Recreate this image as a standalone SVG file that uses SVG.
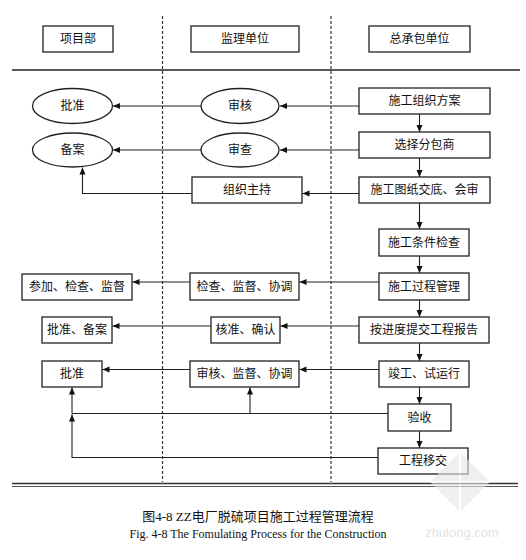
<svg xmlns="http://www.w3.org/2000/svg" width="526" height="560" viewBox="0 0 526 560">
<defs>
<style>
.box{fill:#fff;stroke:#222;stroke-width:1.3}
.t{font-family:"Liberation Serif","Noto Sans CJK SC",serif;font-size:12px;fill:#111;text-anchor:middle;dominant-baseline:central}
.ln{fill:none;stroke:#222;stroke-width:1.1}
.arr{fill:none;stroke:#222;stroke-width:1.1;marker-end:url(#ah)}
.dash{stroke:#333;stroke-width:1.2;stroke-dasharray:3 2}
</style>
<marker id="ah" markerUnits="userSpaceOnUse" markerWidth="8" markerHeight="8" viewBox="0 0 8 8" refX="7" refY="4" orient="auto">
<path d="M0,1 L7,4 L0,7 Z" fill="#111"/>
</marker>
</defs>
<rect width="526" height="560" fill="#fff"/>

<g id="lanes">
<line class="dash" x1="162.5" y1="16" x2="162.5" y2="482"/>
<line class="dash" x1="331" y1="16" x2="331" y2="482"/>
<line x1="12" y1="70" x2="520" y2="70" stroke="#222" stroke-width="1.4"/>
<line x1="12" y1="483.5" x2="518" y2="483.5" stroke="#333" stroke-width="1.5"/>
<line x1="12" y1="486.5" x2="518" y2="486.5" stroke="#555" stroke-width="1"/>
</g>

<g id="h1"><rect class="box" x="43" y="26" width="70" height="26"/><text class="t" x="78" y="39">项目部</text></g>
<g id="h2"><rect class="box" x="191" y="26" width="108" height="26"/><text class="t" x="245" y="39">监理单位</text></g>
<g id="h3"><rect class="box" x="369" y="26" width="101" height="26"/><text class="t" x="419.5" y="39">总承包单位</text></g>

<g id="n1"><rect class="box" x="359" y="88" width="131" height="26"/><text class="t" x="424.5" y="101">施工组织方案</text></g>
<g id="n2"><ellipse class="box" cx="240" cy="106" rx="39" ry="17.5"/><text class="t" x="240" y="106">审核</text></g>
<g id="n3"><ellipse class="box" cx="72.5" cy="106" rx="40" ry="17.5"/><text class="t" x="72.5" y="106">批准</text></g>

<g id="n4"><rect class="box" x="359" y="132" width="131" height="26"/><text class="t" x="424.5" y="145">选择分包商</text></g>
<g id="n5"><ellipse class="box" cx="240" cy="150" rx="39" ry="17"/><text class="t" x="240" y="150">审查</text></g>
<g id="n6"><ellipse class="box" cx="72.5" cy="150" rx="40" ry="17"/><text class="t" x="72.5" y="150">备案</text></g>

<g id="n7"><rect class="box" x="359" y="177" width="131" height="26"/><text class="t" x="424.5" y="190">施工图纸交底、会审</text></g>
<g id="n8"><rect class="box" x="192" y="177" width="110" height="26"/><text class="t" x="247" y="190">组织主持</text></g>

<g id="n9"><rect class="box" x="379" y="229" width="90" height="27"/><text class="t" x="424" y="242.5">施工条件检查</text></g>

<g id="n10"><rect class="box" x="379" y="273" width="90" height="27"/><text class="t" x="424" y="286.5">施工过程管理</text></g>
<g id="n11"><rect class="box" x="190" y="273" width="109" height="27"/><text class="t" x="244.5" y="286.5">检查、监督、协调</text></g>
<g id="n12"><rect class="box" x="22" y="274" width="110" height="26"/><text class="t" x="77" y="287">参加、检查、监督</text></g>

<g id="n13"><rect class="box" x="359" y="317" width="130" height="26"/><text class="t" x="424" y="330">按进度提交工程报告</text></g>
<g id="n14"><rect class="box" x="211" y="317" width="69" height="26"/><text class="t" x="245.5" y="330">核准、确认</text></g>
<g id="n15"><rect class="box" x="42" y="317" width="70" height="26"/><text class="t" x="77" y="330">批准、备案</text></g>

<g id="n16"><rect class="box" x="379" y="361" width="90" height="26"/><text class="t" x="424" y="374">竣工、试运行</text></g>
<g id="n17"><rect class="box" x="190" y="361" width="109" height="26"/><text class="t" x="244.5" y="374">审核、监督、协调</text></g>
<g id="n18"><rect class="box" x="42" y="361" width="60" height="26"/><text class="t" x="72" y="374">批准</text></g>

<g id="n19"><rect class="box" x="388" y="404" width="63" height="27"/><text class="t" x="419.5" y="417.5">验收</text></g>
<g id="n20"><rect class="box" x="378" y="448" width="90" height="26"/><text class="t" x="423" y="461">工程移交</text></g>

<g id="connectors">
<line class="arr" x1="359" y1="106" x2="280" y2="106"/>
<line class="arr" x1="201" y1="106" x2="113" y2="106"/>
<line class="arr" x1="419.5" y1="114" x2="419.5" y2="132"/>
<line class="arr" x1="359" y1="150" x2="280" y2="150"/>
<line class="arr" x1="201" y1="150" x2="113" y2="150"/>
<line class="arr" x1="419.5" y1="158" x2="419.5" y2="177"/>
<line class="arr" x1="359" y1="193.5" x2="302.5" y2="193.5"/>
<polyline class="arr" points="192,193.5 82.5,193.5 82.5,167.5"/>
<line class="arr" x1="419.5" y1="203" x2="419.5" y2="229"/>
<line class="arr" x1="419.5" y1="256" x2="419.5" y2="273"/>
<line class="arr" x1="379" y1="282" x2="299.5" y2="282"/>
<line class="arr" x1="190" y1="282" x2="132.5" y2="282"/>
<line class="arr" x1="419.5" y1="300" x2="419.5" y2="317"/>
<line class="arr" x1="359" y1="326" x2="280.5" y2="326"/>
<line class="arr" x1="211" y1="326" x2="112.5" y2="326"/>
<line class="arr" x1="419.5" y1="343" x2="419.5" y2="361"/>
<line class="arr" x1="379" y1="369.5" x2="299.5" y2="369.5"/>
<line class="arr" x1="190" y1="369.5" x2="102.5" y2="369.5"/>
<line class="arr" x1="419.5" y1="387" x2="419.5" y2="404"/>
<line class="ln" x1="388" y1="413.5" x2="72" y2="413.5"/>
<line class="arr" x1="250" y1="413.5" x2="250" y2="387.5"/>
<line class="arr" x1="72" y1="413.5" x2="72" y2="387.5"/>
<line class="arr" x1="419.5" y1="431" x2="419.5" y2="448"/>
<polyline class="arr" points="378,457.5 72,457.5 72,414.5"/>
</g>

<g id="watermark" opacity="0.6">
<polygon points="460,452 490,482 460,512 430,482" fill="#e6e6e6"/>
<line x1="460" y1="452" x2="460" y2="512" stroke="#fff" stroke-width="2"/>
<line x1="430" y1="482" x2="490" y2="482" stroke="#fff" stroke-width="2"/>
<text x="462" y="537" font-family="Liberation Sans,sans-serif" font-size="13" fill="#d0d0d0" text-anchor="middle">zhulong.com</text>
</g>

<g id="caption">
<text x="258" y="521" font-family="Liberation Serif,'Noto Sans CJK SC',serif" font-size="13" fill="#111" text-anchor="middle">图4-8 ZZ电厂脱硫项目施工过程管理流程</text>
<text x="258" y="538" font-family="Liberation Serif,serif" font-size="12" fill="#111" text-anchor="middle">Fig. 4-8 The Fomulating Process for the Construction</text>
</g>
</svg>
